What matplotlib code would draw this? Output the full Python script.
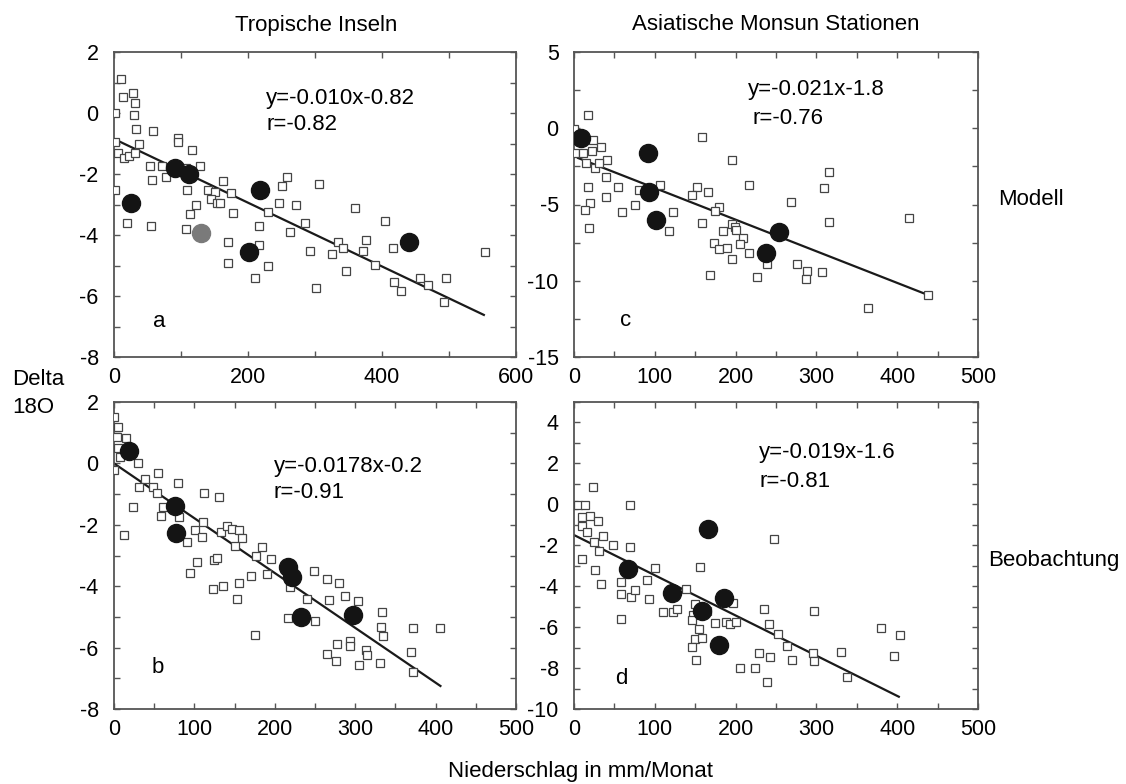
import matplotlib
matplotlib.use("Agg")
import matplotlib.pyplot as plt
from matplotlib.ticker import MultipleLocator

plt.rcParams['font.family'] = ['Liberation Sans', 'DejaVu Sans']
plt.rcParams['axes.unicode_minus'] = False

# panel a: Tropische Inseln, Modell
a_sq_x = [10, 14, 28, 31, 1.5, 30, 33, 58, 1.5, 38, 96, 95, 6, 15, 23, 31, 117, 54, 72, 78,
          56, 128, 107, 1.5, 109, 140, 163, 150, 175, 145, 153, 158, 122, 113, 178, 20, 55, 107,
          170, 170, 217, 216, 210, 230, 230, 247, 251, 258, 272, 262, 285, 306, 292, 302, 325,
          335, 342, 346, 371, 376, 360, 390, 405, 416, 418, 428, 457, 468, 495, 493, 553]
a_sq_y = [1.10, 0.53, 0.67, 0.32, 0.0, -0.07, -0.53, -0.58, -0.94, -1.02, -0.83, -0.94, -1.32,
          -1.49, -1.41, -1.32, -1.21, -1.74, -1.74, -2.11, -2.20, -1.74, -1.81, -2.52, -2.52,
          -2.52, -2.22, -2.58, -2.63, -2.83, -2.96, -2.94, -3.02, -3.31, -3.29, -3.62, -3.70,
          -3.81, -4.24, -4.93, -4.33, -3.70, -5.42, -5.02, -3.24, -2.94, -2.39, -2.09, -3.02,
          -3.91, -3.60, -2.33, -4.53, -5.73, -4.62, -4.24, -4.44, -5.18, -4.51, -4.16, -3.12,
          -4.98, -3.53, -4.44, -5.53, -5.83, -5.42, -5.64, -5.42, -6.19, -4.55]
a_dot_x = [26, 91, 112, 218, 202, 440]
a_dot_y = [-2.94, -1.81, -2.01, -2.52, -4.55, -4.22]
a_grey_x = [130]
a_grey_y = [-3.94]
a_fit_x = [0, 552]
a_fit_y = [-0.85, -6.62]

# panel b: Tropische Inseln, Beobachtung
b_sq_x = [0, 5.4, 3.3, 15, 5.4, 7.5, 30, 0, 38.6, 55, 31.5, 49, 54, 79, 24, 61, 59, 81, 12.4,
          91, 111, 101, 110, 112, 131, 133, 140, 146.5, 156, 159, 150.6, 103, 94, 124, 128, 123,
          136, 156, 153, 170.5, 175, 177, 184, 190, 195, 216, 219, 240, 250, 249, 265, 268, 280,
          287.5, 304, 333, 332, 335, 372, 406, 277, 265.5, 276, 293, 294, 314, 314.5, 305, 331,
          369, 372.5]
b_sq_y = [1.52, 1.18, 0.87, 0.82, 0.49, 0.22, 0.02, -0.21, -0.52, -0.32, -0.78, -0.76, -0.95,
          -0.63, -1.43, -1.41, -1.70, -1.74, -2.33, -2.55, -1.90, -2.17, -2.41, -0.97, -1.10,
          -2.24, -2.04, -2.15, -2.17, -2.44, -2.69, -3.22, -3.56, -3.15, -3.09, -4.10, -3.99,
          -3.91, -4.43, -3.66, -5.60, -3.02, -2.71, -3.60, -3.12, -5.05, -4.04, -4.43, -5.12,
          -3.50, -3.78, -4.45, -3.91, -4.31, -4.47, -4.83, -5.32, -5.61, -5.35, -5.35, -5.88,
          -6.22, -6.43, -5.78, -5.95, -6.08, -6.24, -6.57, -6.51, -6.13, -6.78]
b_dot_x = [19, 76, 77, 217, 222, 233, 297]
b_dot_y = [0.40, -1.39, -2.28, -3.36, -3.69, -4.99, -4.94]
b_fit_x = [0, 406]
b_fit_y = [0.0, -7.25]

# panel c: Asiatische Monsun Stationen, Modell
c_sq_x = [17.7, 0, 24, 34, 1, 11.5, 22.7, 41, 15, 26, 31, 40, 17.7, 40, 54, 20, 13.6, 19, 60,
          75.5, 81, 106, 117, 123, 159, 195, 152, 166, 146, 179, 175, 159, 216, 195, 199, 200,
          184, 209, 173, 179, 189, 205, 216, 196, 168, 226, 238.5, 268.6, 276, 288, 287, 306.6,
          315, 309, 315, 415, 438.5, 364]
c_sq_y = [0.87, -0.07, -0.77, -1.25, -1.60, -1.64, -1.47, -2.08, -2.30, -2.63, -2.26, -3.22,
          -3.83, -4.53, -3.83, -4.88, -5.36, -6.56, -5.47, -5.03, -4.05, -3.72, -6.72, -5.47,
          -0.59, -2.08, -3.83, -4.16, -4.38, -5.14, -5.41, -6.20, -3.72, -6.28, -6.46, -6.67,
          -6.74, -7.22, -7.51, -7.94, -7.87, -7.59, -8.20, -8.59, -9.62, -9.73, -8.90, -4.82,
          -8.90, -9.34, -9.90, -9.41, -2.85, -3.94, -6.13, -5.91, -10.93, -11.81]
c_dot_x = [8.3, 91, 93, 102, 254, 237.6]
c_dot_y = [-0.66, -1.64, -4.16, -6.02, -6.82, -8.20]
c_fit_x = [5, 438]
c_fit_y = [-1.95, -10.93]

# panel d: Asiatische Monsun Stationen, Beobachtung
d_sq_x = [24, 0, 5, 14, 69, 9.5, 20, 30, 9.5, 16.5, 35.5, 25, 48, 31, 69, 248, 9.5, 26, 34, 100,
          156, 58, 58, 70.6, 75.5, 90, 93, 58, 110.6, 122, 128, 138, 150, 147, 146, 155, 150, 158,
          146.5, 151, 164, 175, 188, 193, 200.6, 197, 205, 224, 229.5, 242, 235, 241.5, 253, 239,
          263, 269.6, 297, 296, 297, 331, 338, 380, 403, 396]
d_sq_y = [0.86, -0.03, -0.03, -0.03, -0.03, -0.61, -0.57, -0.80, -1.06, -1.37, -1.53, -1.83,
          -1.99, -2.28, -2.07, -1.70, -2.69, -3.21, -3.89, -3.13, -3.08, -3.81, -4.38, -4.51,
          -4.19, -3.70, -4.61, -5.60, -5.25, -5.25, -5.13, -4.15, -4.89, -5.41, -5.65, -6.11,
          -6.60, -6.55, -6.99, -7.61, -5.20, -5.81, -5.73, -5.85, -5.73, -4.84, -7.98, -7.98,
          -7.25, -7.45, -5.12, -5.86, -6.35, -8.67, -6.92, -7.61, -5.20, -7.28, -7.64, -7.20,
          -8.45, -6.06, -6.38, -7.41]
d_dot_x = [166, 66.5, 121, 186, 159, 180]
d_dot_y = [-1.21, -3.18, -4.32, -4.59, -5.20, -6.87]
d_fit_x = [0, 402]
d_fit_y = [-1.5, -9.4]

fig = plt.figure(figsize=(11.26, 7.84), dpi=100)

# axes positions measured in pixels of the reference
ax_a = fig.add_axes([114 / 1126, 1 - 357 / 784, 402 / 1126, 305 / 784])
ax_c = fig.add_axes([574 / 1126, 1 - 357 / 784, 404 / 1126, 305 / 784])
ax_b = fig.add_axes([114 / 1126, 1 - 709 / 784, 402 / 1126, 307 / 784])
ax_d = fig.add_axes([574 / 1126, 1 - 709 / 784, 404 / 1126, 307 / 784])

panels = [
    (ax_a, a_sq_x, a_sq_y, a_dot_x, a_dot_y, a_fit_x, a_fit_y, (0, 600), (-8, 2), 200, 100, 2, 1,
     'a', (68, -6.85), "y=-0.010x-0.82", (227, 0.49), "r=-0.82", (227, -0.39)),
    (ax_c, c_sq_x, c_sq_y, c_dot_x, c_dot_y, c_fit_x, c_fit_y, (0, 500), (-15, 5), 100, 50, 5, 2.5,
     'c', (64, -12.6), "y=-0.021x-1.8", (215, 2.57), "r=-0.76", (221, 0.61)),
    (ax_b, b_sq_x, b_sq_y, b_dot_x, b_dot_y, b_fit_x, b_fit_y, (0, 500), (-8, 2), 100, 50, 2, 1,
     'b', (55, -6.66), "y=-0.0178x-0.2", (199, -0.085), "r=-0.91", (199, -0.96)),
    (ax_d, d_sq_x, d_sq_y, d_dot_x, d_dot_y, d_fit_x, d_fit_y, (0, 500), (-10, 5), 100, 50, 2, 1,
     'd', (59, -8.49), "y=-0.019x-1.6", (229, 2.555), "r=-0.81", (229, 1.14)),
]

for (ax, sx, sy, dx, dy, fx, fy, xl, yl, xmaj, xmin, ymaj, ymin,
     letter, lpos, eq, eqpos, rr, rpos) in panels:
    ax.plot(fx, fy, color='#1a1a1a', lw=1.6, zorder=2)
    ax.plot(sx, sy, 's', ms=5.8, mfc='white', mec='#444444', mew=0.9, zorder=3)
    ax.plot(dx, dy, 'o', ms=13, color='#141414', zorder=4)
    ax.set_xlim(*xl)
    ax.set_ylim(*yl)
    ax.xaxis.set_major_locator(MultipleLocator(xmaj))
    ax.xaxis.set_minor_locator(MultipleLocator(xmin))
    ax.yaxis.set_major_locator(MultipleLocator(ymaj))
    ax.yaxis.set_minor_locator(MultipleLocator(ymin))
    ax.tick_params(which='both', direction='in', top=True, right=True,
                   color='#555555', width=1.0, length=4)
    ax.tick_params(axis='x', labelsize=15.5, pad=7)
    ax.tick_params(axis='y', labelsize=15.5, pad=11)
    for sp in ax.spines.values():
        sp.set_color('#555555')
        sp.set_linewidth(1.3)
    ax.text(lpos[0], lpos[1], letter, fontsize=16, ha='center', va='center')
    ax.text(eqpos[0], eqpos[1], eq, fontsize=16, ha='left', va='center')
    ax.text(rpos[0], rpos[1], rr, fontsize=16, ha='left', va='center')

ax_a.plot(a_grey_x, a_grey_y, 'o', ms=13, color='#7a7a7a', zorder=4)

fig.text(316 / 1126, 1 - 25 / 784, "Tropische Inseln", fontsize=16, ha='center', va='center')
fig.text(776 / 1126, 1 - 25 / 784, "Asiatische Monsun Stationen", fontsize=16,
         ha='center', va='center')
fig.text(998 / 1126, 1 - 205 / 784, "Modell", fontsize=16, ha='left', va='baseline')
fig.text(988 / 1126, 1 - 566 / 784, "Beobachtung", fontsize=16, ha='left', va='baseline')
fig.text(12 / 1126, 1 - 385 / 784, "Delta", fontsize=16, ha='left', va='baseline')
fig.text(12 / 1126, 1 - 413 / 784, "18O", fontsize=16, ha='left', va='baseline')
fig.text(581 / 1126, 1 - 777 / 784, "Niederschlag in mm/Monat", fontsize=16,
         ha='center', va='baseline')

fig.savefig("out.png", dpi=100)
